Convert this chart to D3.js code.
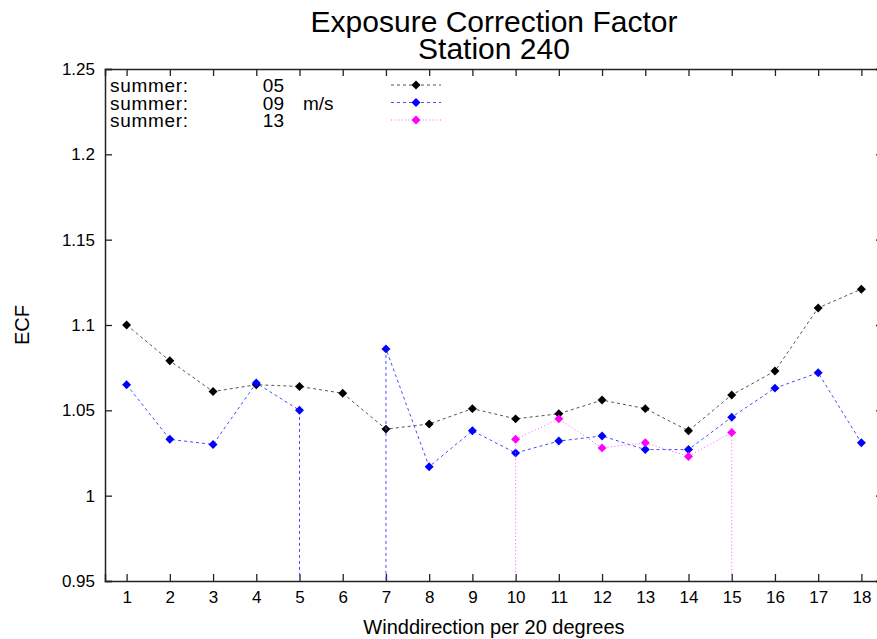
<!DOCTYPE html>
<html>
<head>
<meta charset="utf-8">
<script src="https://cdn.jsdelivr.net/npm/d3@7"></script>
<style>
  body { margin: 0; background: #fff; }
  svg { display: block; font-family: "Liberation Sans", Arial, Helvetica, sans-serif; }
</style>
</head>
<body>
<svg id="chart" width="877" height="639"></svg>
<script>
// wind direction sectors (20 degrees each)
const sectors = [1, 2, 3, 4, 5, 6, 7, 8, 9, 10, 11, 12, 13, 14, 15, 16, 17, 18];
const yTicks = [0.95, 1, 1.05, 1.1, 1.15, 1.2, 1.25];
const MISSING = -999; // missing value code, as in the source data file

const ecf05 = [1.100, 1.079, 1.061, 1.065, 1.064, 1.060, 1.039, 1.042, 1.051, 1.045, 1.048, 1.056, 1.051, 1.038, 1.059, 1.073, 1.110, 1.121];
const ecf09 = [1.065, 1.033, 1.030, 1.066, 1.050, MISSING, 1.086, 1.017, 1.038, 1.025, 1.032, 1.035, 1.027, 1.027, 1.046, 1.063, 1.072, 1.031];
const ecf13 = [MISSING, MISSING, MISSING, MISSING, MISSING, MISSING, MISSING, MISSING, MISSING, 1.033, 1.045, 1.028, 1.031, 1.023, 1.037, MISSING, MISSING, MISSING];

const seriesNames = ["05", "09", "13"];
const seriesValues = [ecf05, ecf09, ecf13];
const seriesColors = ["#000000", "#0000ff", "#ff00ff"];
const lineColors = ["#555555", "#4a4aff", "#ff55ff"];
const dashes = ["3,3", "3,3", "1,2.5"];

const margin = { top: 69, right: -6, bottom: 58, left: 105 };
const W = 877, H = 639;
const width = W - margin.left - margin.right;
const height = H - margin.top - margin.bottom;

const svg = d3.select("#chart");
const g = svg.append("g").attr("transform", `translate(${margin.left},${margin.top})`);

const x = d3.scaleLinear().domain([0.5, 18.5]).range([0, width]);
const y = d3.scaleLinear().domain([0.95, 1.25]).range([height, 0]);

g.append("defs").append("clipPath").attr("id", "clip")
  .append("rect").attr("width", width).attr("height", height);

// axes with inward ticks on all four sides
const axisColor = "#222";
const tl = 7;
g.append("g").attr("transform", `translate(0,${height})`)
  .call(d3.axisBottom(x).tickValues(sectors).tickSize(-tl).tickPadding(10).tickFormat(d3.format("d")));
g.append("g")
  .call(d3.axisTop(x).tickValues(sectors).tickSize(-tl).tickFormat(""));
g.append("g")
  .call(d3.axisLeft(y).tickValues(yTicks).tickSize(-tl).tickPadding(10).tickFormat(d => d3.format("")(+d.toFixed(2))));
g.append("g").attr("transform", `translate(${width},0)`)
  .call(d3.axisRight(y).tickValues(yTicks).tickSize(-tl).tickFormat(""));

g.selectAll(".domain").attr("stroke", axisColor).attr("stroke-width", 1.5);
g.selectAll(".tick line").attr("stroke", axisColor).attr("stroke-width", 1.3);
g.selectAll(".tick text").attr("fill", "#000").style("font-size", "17px");

// data lines and points
const line = d3.line().x((d, i) => x(sectors[i])).y(d => y(d));
const plot = g.append("g").attr("clip-path", "url(#clip)");
const diamond = d3.symbol().type(d3.symbolSquare).size(40);

seriesValues.forEach((vals, s) => {
  plot.append("path")
    .datum(vals)
    .attr("fill", "none")
    .attr("stroke", lineColors[s])
    .attr("stroke-width", 1)
    .attr("stroke-dasharray", dashes[s])
    .attr("d", line);
  plot.selectAll(null)
    .data(vals.map((v, i) => [sectors[i], v]).filter(d => d[1] !== MISSING))
    .enter().append("path")
    .attr("transform", d => `translate(${x(d[0])},${y(d[1])}) rotate(45)`)
    .attr("d", diamond)
    .attr("fill", seriesColors[s]);
});

// legend
const legend = g.append("g").attr("transform", "translate(0,16)");
const lf = "19px";
seriesNames.forEach((name, s) => {
  const ly = s * 17.5;
  legend.append("text").attr("x", 5).attr("y", ly + 7).style("font-size", lf).attr("textLength", 78).text("summer:");
  legend.append("text").attr("x", 179).attr("y", ly + 7).attr("text-anchor", "end").style("font-size", lf).text(name);
  if (s === 1) legend.append("text").attr("x", 198).attr("y", ly + 7).style("font-size", lf).text("m/s");
  legend.append("line")
    .attr("x1", 286).attr("x2", 336).attr("y1", ly).attr("y2", ly)
    .attr("stroke", lineColors[s]).attr("stroke-width", 1).attr("stroke-dasharray", dashes[s]);
  legend.append("path").attr("transform", `translate(311,${ly}) rotate(45)`).attr("d", diamond).attr("fill", seriesColors[s]);
});

// titles
const cx = margin.left + width / 2;
svg.append("text").attr("x", cx).attr("y", 32).attr("text-anchor", "middle").style("font-size", "30px").text("Exposure Correction Factor");
svg.append("text").attr("x", cx).attr("y", 59).attr("text-anchor", "middle").style("font-size", "30px").text("Station 240");
svg.append("text").attr("x", cx).attr("y", 634).attr("text-anchor", "middle").style("font-size", "20px").text("Winddirection per 20 degrees");
svg.append("text").attr("transform", `translate(29,${margin.top + height / 2}) rotate(-90)`)
  .attr("text-anchor", "middle").style("font-size", "20px").text("ECF");
</script>
</body>
</html>
